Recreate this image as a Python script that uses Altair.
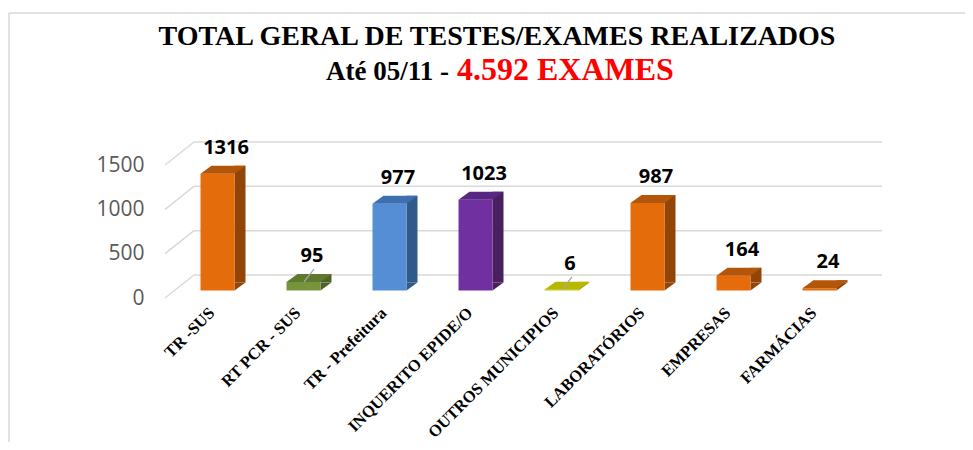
import altair as alt
import pandas as pd

# ---------------- data ----------------
categories = ["TR -SUS", "RT PCR  - SUS", "TR - Prefeitura", "INQUERITO EPIDE/O",
              "OUTROS MUNICIPIOS", "LABORATÓRIOS", "EMPRESAS", "FARMÁCIAS"]
values = [1316, 95, 977, 1023, 6, 987, 164, 24]
y_ticks = [0, 500, 1000, 1500]
leader_cats = ["RT PCR  - SUS", "OUTROS MUNICIPIOS"]

title_line1 = "TOTAL GERAL DE TESTES/EXAMES REALIZADOS"
title_line2a = "Até 05/11 -"
title_line2b = "4.592 EXAMES"

front_colors = ["#E46C0A", "#77933C", "#558ED5", "#7030A0", "#C9C900", "#E46C0A", "#E46C0A", "#E46C0A"]
side_colors = ["#934507", "#4F6228", "#2F5A8A", "#48205F", "#9A9A00", "#934507", "#934507", "#934507"]
top_colors = ["#B4560A", "#5D7A2E", "#3E6FAE", "#582683", "#B8B800", "#B4560A", "#B4560A", "#B4560A"]

df = pd.DataFrame({"cat": categories, "val": values})
grid_df = pd.DataFrame({"val": y_ticks})
one = pd.DataFrame({"a": [0]})

# ---------------- geometry (pixels) ----------------
W, H = 688, 133
DX, DY = 9.5, -7.6          # bar plane offset from front plane
SIDE_W, SIDE_H = 11, 8      # bar depth projection
HALF = 17                   # half bar width
BACK_DX, BACK_DY = 29, -23  # back wall offset

xscale = alt.Scale(domain=categories, paddingInner=0.605, paddingOuter=0.3025)
yscale = alt.Scale(domain=[0, 1500], nice=False, zero=True)

x_axis = alt.Axis(title=None, domain=False, ticks=False, grid=False, labelAngle=-45,
                  labelAlign="right", labelBaseline="middle", labelFont="Liberation Serif",
                  labelFontWeight="bold", labelFontSize=16.5, labelColor="black",
                  labelPadding=12, labelOffset=4, labelLimit=300)
y_axis = alt.Axis(title=None, domain=False, ticks=False, grid=False, values=y_ticks,
                  format="d", labelFont="Open Sans", labelFontSize=21, labelColor="#595959",
                  labelPadding=21)

X = alt.X("cat:N", sort=categories, scale=xscale, axis=x_axis)
Y = alt.Y("val:Q", scale=yscale, axis=y_axis)

def col(rng):
    return alt.Color("cat:N", scale=alt.Scale(domain=categories, range=rng), legend=None)

# frame lines
frame_top = alt.Chart(one).mark_rule(color="#d9d9d9", strokeWidth=1.5).encode(
    x=alt.value(-156), x2=alt.value(820), y=alt.value(-152))
frame_left = alt.Chart(one).mark_rule(color="#d9d9d9", strokeWidth=1.5).encode(
    x=alt.value(-156), y=alt.value(-152), y2=alt.value(300))

# back wall gridlines
back_grid = alt.Chart(grid_df).mark_rule(color="#d9d9d9", strokeWidth=1.5, yOffset=BACK_DY).encode(
    y=Y, x=alt.value(BACK_DX), x2=alt.value(W + BACK_DX))
slant_grid = alt.Chart(grid_df).mark_rule(color="#d9d9d9", strokeWidth=1.5, y2Offset=BACK_DY).encode(
    y=Y, y2="val:Q", x=alt.value(0), x2=alt.value(BACK_DX))

base = alt.Chart(df)

side_rect = base.mark_bar(width=SIDE_W, xOffset=DX + HALF + SIDE_W / 2,
                          yOffset=DY - SIDE_H, y2Offset=DY - SIDE_H).encode(
    x=X, y=Y, color=col(side_colors))
side_tri = base.mark_point(shape="M0,0 L0,-0.7273 L1,-0.7273 Z", size=(2 * SIDE_W) ** 2,
                           filled=True, opacity=1, strokeWidth=0,
                           xOffset=DX + HALF, yOffset=DY).encode(
    x=X, y=alt.datum(0), color=col(side_colors))
front = base.mark_bar(xOffset=DX, x2Offset=DX, yOffset=DY, y2Offset=DY).encode(
    x=X, y=Y, color=col(front_colors))
top = base.mark_point(shape="M0,0 L1,0 L1.3235,-0.2353 L0.3235,-0.2353 Z", size=(4 * HALF) ** 2,
                      filled=True, opacity=1, strokeWidth=0,
                      xOffset=DX - HALF, yOffset=DY).encode(
    x=X, y=Y, color=col(top_colors))

leaders = base.transform_filter(alt.FieldOneOfPredicate(field="cat", oneOf=leader_cats)).mark_rule(
    color="#a6a6a6", strokeWidth=1.3, xOffset=10, x2Offset=20, yOffset=-7.6, y2Offset=-20.5).encode(
    x=X, x2="cat:N", y=Y, y2="val:Q")

labels = base.mark_text(font="Open Sans", fontWeight="bold", fontSize=20, color="black",
                        baseline="alphabetic", xOffset=18, yOffset=-27.5).encode(
    x=X, y=Y, text="val:Q")

t1 = alt.Chart(one).mark_text(font="Liberation Serif", fontWeight="bold", fontSize=28,
                              color="black", align="center", baseline="alphabetic").encode(
    x=alt.value(332), y=alt.value(-120), text=alt.value(title_line1))
t2a = alt.Chart(one).mark_text(font="Liberation Serif", fontWeight="bold", fontSize=27,
                               color="black", align="right", baseline="alphabetic").encode(
    x=alt.value(284), y=alt.value(-85), text=alt.value(title_line2a))
t2b = alt.Chart(one).mark_text(font="Liberation Serif", fontWeight="bold", fontSize=32,
                               color="#FF0000", align="left", baseline="alphabetic").encode(
    x=alt.value(292), y=alt.value(-85), text=alt.value(title_line2b))

chart = alt.layer(
    frame_top, frame_left, back_grid, slant_grid,
    side_rect, side_tri, front, top, leaders, labels,
    t1, t2a, t2b
).resolve_scale(color="independent").properties(
    width=W, height=H,
    background="white",
    autosize=alt.AutoSizeParams(type="none"),
    padding={"left": 157, "top": 157, "right": 112, "bottom": 144},
).configure_view(stroke=None)

chart.save("out.html", embed_options={"renderer": "svg", "actions": False})
